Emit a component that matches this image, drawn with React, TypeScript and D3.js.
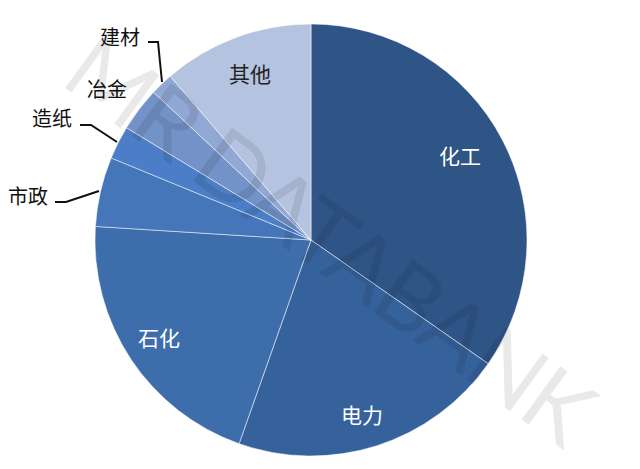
import React from "react";
import * as d3 from "d3";

const categories = ["化工", "电力", "石化", "市政", "造纸", "冶金", "建材", "其他"];
const values = [34.7, 20.7, 20.6, 5.2, 2.5, 3.3, 1.7, 11.3];
const colors = ["#2F5587", "#36629C", "#3E6DAC", "#4676BA", "#4B7EC6", "#7392C8", "#90A8D3", "#B4C3E0"];
const labelColors = ["#fff", "#fff", "#fff", "#222", "#222", "#222", "#222", "#222"];
const watermark = "MR DATABANK";

const W = 640, H = 469;
const cx = 311, cy = 240, R = 216;

const insideLabels = [
  { i: 0, x: 460, y: 155 },
  { i: 1, x: 362, y: 414 },
  { i: 2, x: 159, y: 337 },
  { i: 7, x: 250, y: 73 },
];
const outsideLabels = [
  { i: 6, x: 120, y: 36, line: [[148, 42], [158, 42], [162, 82]] },
  { i: 5, x: 107, y: 88, line: null },
  { i: 4, x: 52, y: 117, line: [[80, 125], [91, 125], [117, 142]] },
  { i: 3, x: 28, y: 195, line: [[55, 202], [66, 202], [99, 191]] },
];

export default function App() {
  const pie = d3.pie<number>().sort(null).value((d) => d)(values);
  const arc = d3.arc<d3.PieArcDatum<number>>().innerRadius(0).outerRadius(R);
  const line = d3.line();
  return (
    <svg width={W} height={H} style={{ position: "absolute", left: 0, top: 0, background: "#fff" }}
      fontFamily="'Noto Sans CJK SC', sans-serif">
      <g transform={`translate(${cx},${cy})`}>
        {pie.map((p, k) => (
          <path key={k} d={arc(p) || ""} fill={colors[k]} stroke="rgba(255,255,255,0.5)" strokeWidth={1} />
        ))}
      </g>
      <text x={332} y={238} transform="rotate(36 332 238)" textAnchor="middle" dominantBaseline="central"
        fontFamily="Lato, 'DejaVu Sans', sans-serif" fontWeight={400} fontSize={92}
        fill="#000" fillOpacity={0.085} textLength={625} lengthAdjust="spacing">{watermark}</text>
      {insideLabels.map((l) => (
        <text key={l.i} x={l.x} y={l.y} textAnchor="middle" dominantBaseline="central" fontSize={21}
          fill={labelColors[l.i]}>{categories[l.i]}</text>
      ))}
      {outsideLabels.map((l) => (
        <g key={l.i}>
          <text x={l.x} y={l.y} textAnchor="middle" dominantBaseline="central" fontSize={20} fill="#111">
            {categories[l.i]}
          </text>
          {l.line && <path d={line(l.line as [number, number][]) || ""} fill="none" stroke="#111" strokeWidth={2} />}
        </g>
      ))}
    </svg>
  );
}
